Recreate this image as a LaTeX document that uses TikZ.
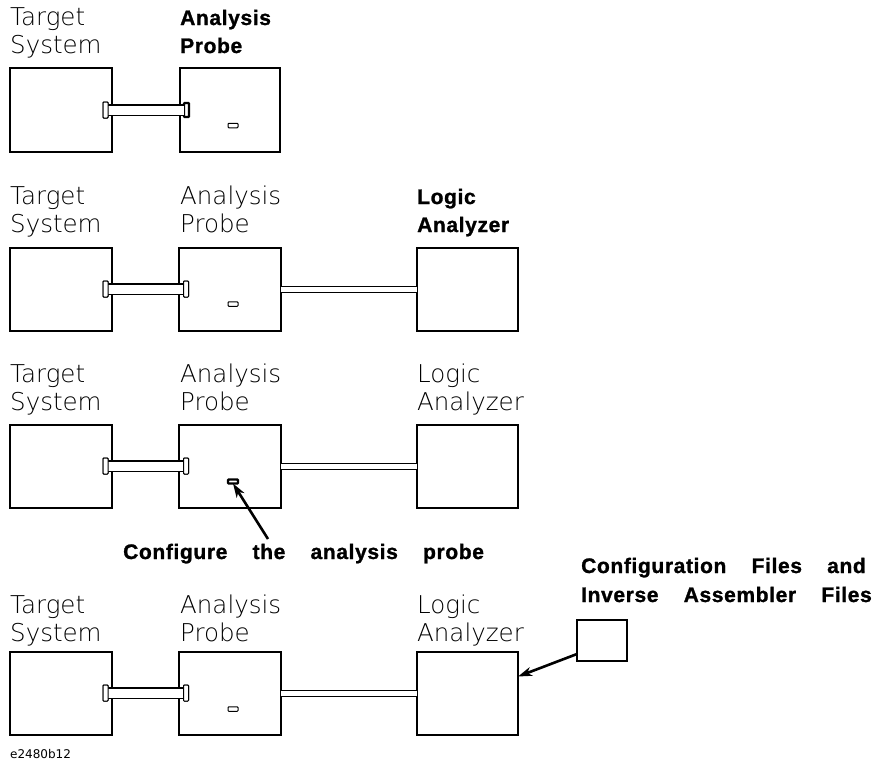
\documentclass[tikz,border=0pt]{standalone}
\usepackage{fontspec}
\usetikzlibrary{arrows.meta}
\newfontfamily\thinfont{DejaVu Sans ExtraLight}
\newfontfamily\tagfont{DejaVu Sans}
\newfontfamily\heavyfont{Liberation Sans Bold}[LetterSpace=3,WordSpace=3.9,FakeBold=1.2]

\begin{document}
\begin{tikzpicture}[x=1pt,y=-1pt,
  unit/.style={draw,line width=1.1pt,minimum width=102pt,minimum height=83pt,
               inner sep=0pt,outer sep=0pt,anchor=north west},
  focus/.style={line width=2.8pt},
  flange/.style={draw,fill=white,line width=1pt,minimum width=5pt,minimum height=16pt,
                 inner sep=0pt,outer sep=0pt,rounded corners=0.8pt},
  switch/.style={draw,line width=1pt,minimum width=10pt,minimum height=4.5pt,
                 inner sep=0pt,outer sep=0pt,rounded corners=0.8pt},
  ribbon/.style={line width=1.1pt,double=white,double distance=9pt},
  cable/.style={line width=1.1pt,double=white,double distance=4.5pt},
  pointer/.style={line width=2.6pt,-{Stealth[length=14pt,width=9pt,inset=4pt]}},
  lbl/.style={font=\thinfont\fontsize{24.5}{28}\selectfont,anchor=base west,
              inner sep=0pt,align=left},
  hlbl/.style={font=\heavyfont\fontsize{21}{28}\selectfont,
               anchor=base west,inner sep=0pt,align=left},
  tag/.style={font=\tagfont\fontsize{12}{14}\selectfont,anchor=base west,inner sep=0pt}]
\useasboundingbox (0,0) rectangle (881,766);

% ---------- step 1: target system and analysis probe ----------
\node[lbl] (tl1) at (10,53) {Target\\System};
\node[hlbl] (pl1) at (180,53) {Analysis\\Probe};
\node[unit,minimum height=84pt] (t1) at (10,68) {};
\node[unit,focus,minimum width=100pt,minimum height=84pt] (p1) at (180,68) {};
\node[switch] (sw1) at (233,125.5) {};
\node[flange] (fa1) at (105.5,110) {};
\node[flange,line width=2.4pt,minimum width=5pt,minimum height=14pt] (fb1) at (186.5,110) {};
\draw[ribbon] (fa1.east) -- (fb1.west);
\node[flange] at (105.5,110) {};

% ---------- step 2: connect the logic analyzer ----------
\node[lbl] (tl2) at (10,232) {Target\\System};
\node[lbl] (pl2) at (180,232) {Analysis\\Probe};
\node[hlbl] (ll2) at (417,232) {Logic\\Analyzer};
\node[unit] (t2) at (10,248) {};
\node[unit] (p2) at (179,248) {};
\node[unit,focus,minimum width=101pt] (l2) at (417,248) {};
\node[switch] (sw2) at (233,304) {};
\node[flange] (fa2) at (105.5,289) {};
\node[flange] (fb2) at (186,289) {};
\draw[ribbon] (fa2.east) -- (fb2.west);
\node[flange] at (105.5,289) {};
\node[flange] at (186,289) {};
\draw[cable] (p2.east) -- (p2.east -| l2.west);

% ---------- step 3: configure the analysis probe ----------
\node[lbl] (tl3) at (10,410) {Target\\System};
\node[lbl] (pl3) at (180,410) {Analysis\\Probe};
\node[lbl] (ll3) at (417,410) {Logic\\Analyzer};
\node[unit] (t3) at (10,425) {};
\node[unit] (p3) at (179,425) {};
\node[unit,minimum width=101pt] (l3) at (417,425) {};
\node[switch,line width=2.4pt,minimum width=10pt,minimum height=4pt] (sw3) at (233,481.5) {};
\node[flange] (fa3) at (105.5,466) {};
\node[flange] (fb3) at (186,466) {};
\draw[ribbon] (fa3.east) -- (fb3.west);
\node[flange] at (105.5,466) {};
\node[flange] at (186,466) {};
\draw[cable] (p3.east) -- (p3.east -| l3.west);
\node[hlbl] (cl3) at (123,559) {Configure the analysis probe};
\coordinate (c3) at (268,539);
\draw[pointer] (c3) -- (sw3.south);

% ---------- step 4: load configuration files ----------
\node[lbl] (tl4) at (10,641) {Target\\System};
\node[lbl] (pl4) at (180,641) {Analysis\\Probe};
\node[lbl] (ll4) at (417,641) {Logic\\Analyzer};
\node[unit] (t4) at (10,652) {};
\node[unit] (p4) at (179,652) {};
\node[unit,minimum width=101pt] (l4) at (417,652) {};
\node[switch] (sw4) at (233,709) {};
\node[flange] (fa4) at (105.5,693) {};
\node[flange] (fb4) at (186,693) {};
\draw[ribbon] (fa4.east) -- (fb4.west);
\node[flange] at (105.5,693) {};
\node[flange] at (186,693) {};
\draw[cable] (p4.east) -- (p4.east -| l4.west);
\node[hlbl,font=\heavyfont\fontsize{21}{29}\selectfont] (fl4) at (581,602)
  {Configuration Files and\\Inverse Assembler Files};
\node[draw,line width=2.4pt,minimum width=50pt,minimum height=41pt,inner sep=0pt,
      outer sep=0pt,anchor=north west] (cf) at (577,620) {};
\draw[pointer] ([yshift=7pt]cf.south west) -- ([yshift=17pt]l4.east);

\node[tag] (id) at (10,758) {e2480b12};
\end{tikzpicture}
\end{document}
